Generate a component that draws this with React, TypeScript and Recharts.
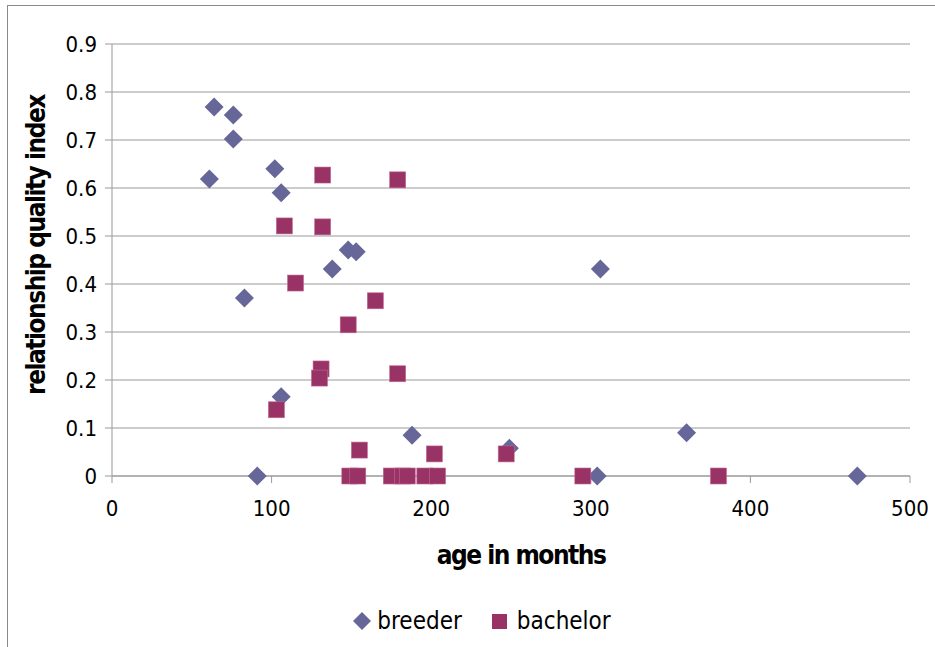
import { ScatterChart, Scatter, XAxis, YAxis, CartesianGrid, Legend } from "recharts";

// age in months / relationship quality index
const breederAge = [64, 76, 76, 61, 102, 106, 148, 153, 138, 83, 106, 91, 188, 249, 306, 304, 360, 467];
const breederRqi = [0.769, 0.752, 0.702, 0.619, 0.64, 0.59, 0.471, 0.467, 0.431, 0.371, 0.165, 0, 0.085, 0.058, 0.431, 0, 0.09, 0];

const bachelorAge = [132, 179, 108, 132, 115, 165, 148, 131, 130, 179, 103, 155, 202, 247, 149, 154, 175, 182, 185, 196, 204, 295, 380];
const bachelorRqi = [0.627, 0.617, 0.521, 0.519, 0.402, 0.365, 0.315, 0.223, 0.204, 0.213, 0.138, 0.054, 0.046, 0.046, 0, 0, 0, 0, 0, 0, 0, 0, 0];

const xTicks = [0, 100, 200, 300, 400, 500];
const yTicks = [0, 0.1, 0.2, 0.3, 0.4, 0.5, 0.6, 0.7, 0.8, 0.9];

const BREEDER = "#666699";
const BACHELOR = "#993366";
const FONT = "DejaVu Sans Condensed";

const breeder = breederAge.map((a, i) => ({ age: a, rqi: breederRqi[i] }));
const bachelor = bachelorAge.map((a, i) => ({ age: a, rqi: bachelorRqi[i] }));

const Diamond = (props: any) => {
  const { cx, cy } = props;
  const r = 9.5;
  return (
    <polygon
      points={`${cx},${cy - r} ${cx + r},${cy} ${cx},${cy + r} ${cx - r},${cy}`}
      fill={BREEDER}
    />
  );
};

const Square = (props: any) => {
  const { cx, cy } = props;
  const s = 16;
  return <rect x={cx - s / 2} y={cy - s / 2} width={s} height={s} fill={BACHELOR} stroke="#c06a94" strokeWidth={0.6} />;
};

const LegendBox = () => (
  <div style={{ display: "flex", justifyContent: "center", alignItems: "center", fontFamily: FONT, fontSize: 24, color: "#000", lineHeight: "28px" }}>
    <svg width={20} height={20} style={{ marginRight: 5 }}>
      <polygon points="10,1 19,10 10,19 1,10" fill={BREEDER} />
    </svg>
    <span style={{ marginRight: 29 }}>breeder</span>
    <svg width={17} height={17} style={{ marginRight: 9 }}>
      <rect x={1} y={1} width={15} height={15} fill={BACHELOR} />
    </svg>
    <span>bachelor</span>
  </div>
);

const YTitle = () => (
  <text
    x={0}
    y={0}
    transform="translate(45,245) rotate(-90)"
    textAnchor="middle"
    fontFamily={FONT}
    fontWeight="bold"
    fontSize={26}
    letterSpacing={-1.5}
    fill="#000"
  >
    relationship quality index
  </text>
);

export default function App() {
  return (
    <div style={{ position: "absolute", left: 0, top: 0, width: 935, height: 647, background: "#fff", overflow: "hidden" }}>
      <div style={{ position: "absolute", left: 7, top: 5, width: 940, height: 660, border: "1px solid #8a8a8a" }} />
      <ScatterChart width={935} height={647} margin={{ top: 44, right: 25, bottom: 71, left: 52 }}>
        <CartesianGrid horizontal vertical={false} stroke="#999" />
        <XAxis
          type="number"
          dataKey="age"
          domain={[0, 500]}
          ticks={xTicks}
          height={100}
          stroke="#999"
          tickSize={7}
          tickMargin={17}
          tick={{ fill: "#000", fontSize: 22, fontFamily: FONT }}
          label={{
            value: "age in months",
            position: "insideBottom",
            offset: 12,
            dx: 10,
            fill: "#000",
            fontSize: 26,
            fontWeight: "bold",
            fontFamily: FONT,
            letterSpacing: -1.5,
          }}
        />
        <YAxis
          type="number"
          dataKey="rqi"
          domain={[0, 0.9]}
          ticks={yTicks}
          width={60}
          stroke="#999"
          tickSize={7}
          tickMargin={8}
          tick={{ fill: "#000", fontSize: 22, fontFamily: FONT }}
          tickFormatter={(v: number) => String(v)}
          label={<YTitle />}
        />
        <Legend
          layout="horizontal"
          verticalAlign="middle"
          align="center"
          content={<LegendBox />}
          wrapperStyle={{ position: "absolute", top: 607, left: 14, width: 935 }}
        />
        <Scatter name="breeder" data={breeder} shape={<Diamond />} isAnimationActive={false} />
        <Scatter name="bachelor" data={bachelor} shape={<Square />} isAnimationActive={false} />
      </ScatterChart>
    </div>
  );
}
